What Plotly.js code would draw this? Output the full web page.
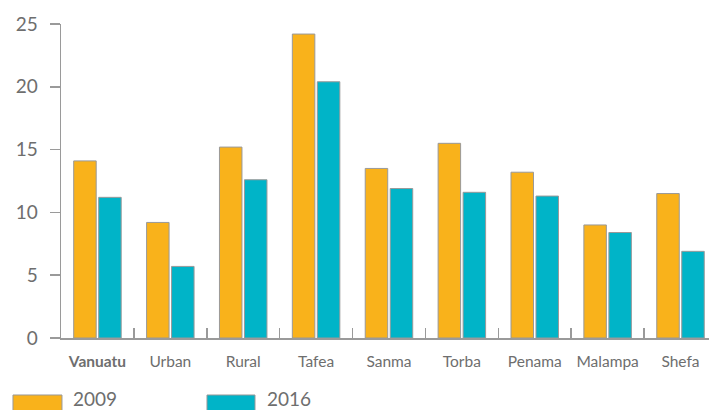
<!DOCTYPE html>
<html>
<head>
<meta charset="utf-8">
<script src="https://cdn.plot.ly/plotly-3.0.1.min.js"></script>
<style>html,body{margin:0;padding:0;background:#fff;}#chart{width:709px;height:410px;}</style>
</head>
<body>
<div id="chart"></div>
<script>
var categories = ["Vanuatu", "Urban", "Rural", "Tafea", "Sanma", "Torba", "Penama", "Malampa", "Shefa"];
var tickLabels = ["<b>Vanuatu</b>", "Urban", "Rural", "Tafea", "Sanma", "Torba", "Penama", "Malampa", "Shefa"];
var values2009 = [14.1, 9.2, 15.2, 24.2, 13.5, 15.5, 13.2, 9.0, 11.5];
var values2016 = [11.2, 5.7, 12.6, 20.4, 11.9, 11.6, 11.3, 8.4, 6.9];
var seriesNames = ["2009", "2016"];
var colors = ["#F9B21B", "#00B4C8"];

var font = "Lato, 'Open Sans', sans-serif";
var grey = "#6e6e6e";
var lineGrey = "#9a9a9a";

var traces = [
  {type: "bar", name: seriesNames[0], x: categories, y: values2009,
   marker: {color: colors[0], line: {color: "#999999", width: 1}}, hoverinfo: "y"},
  {type: "bar", name: seriesNames[1], x: categories, y: values2016,
   marker: {color: colors[1], line: {color: "#999999", width: 1}}, hoverinfo: "y"}
];

var layout = {
  width: 709, height: 410,
  margin: {l: 61, r: 0, t: 24, b: 72, pad: 0},
  paper_bgcolor: "#fff", plot_bgcolor: "#fff",
  font: {family: font, color: grey},
  showlegend: false,
  barmode: "group",
  bargap: 0.314,
  bargroupgap: 0.1,
  xaxis: {
    type: "category",
    range: [-0.5, 8.391],
    tickmode: "array", tickvals: categories, ticktext: tickLabels,
    tickson: "boundaries",
    ticks: "inside", ticklen: 10, tickwidth: 1.5, tickcolor: lineGrey,
    showline: true, linecolor: lineGrey, linewidth: 1.5,
    showgrid: false, zeroline: false,
    tickangle: 0, automargin: false,
    tickfont: {family: font, size: 15.5, color: grey},
    ticklabelstandoff: 9
  },
  yaxis: {
    range: [0, 25],
    tickvals: [0, 5, 10, 15, 20, 25],
    ticks: "outside", ticklen: 10, tickwidth: 1.5, tickcolor: lineGrey,
    showline: true, linecolor: lineGrey, linewidth: 1.5,
    showgrid: false, zeroline: false, automargin: false,
    tickfont: {family: font, size: 19, color: grey},
    ticklabelstandoff: 8
  },
  shapes: [
    {type: "rect", xref: "paper", yref: "paper", x0: -0.0741, x1: 0.0015, y0: -0.1815, y1: -0.26,
     fillcolor: colors[0], line: {color: "#999999", width: 1}},
    {type: "rect", xref: "paper", yref: "paper", x0: 0.2253, x1: 0.2994, y0: -0.1815, y1: -0.26,
     fillcolor: colors[1], line: {color: "#999999", width: 1}}
  ],
  annotations: [
    {xref: "paper", yref: "paper", x: 0.0154, y: -0.192, xanchor: "left", yanchor: "middle",
     text: seriesNames[0], showarrow: false, font: {family: font, size: 19, color: grey}},
    {xref: "paper", yref: "paper", x: 0.3148, y: -0.192, xanchor: "left", yanchor: "middle",
     text: seriesNames[1], showarrow: false, font: {family: font, size: 19, color: grey}}
  ]
};

Plotly.newPlot("chart", traces, layout, {staticPlot: true, displayModeBar: false});
</script>
</body>
</html>
